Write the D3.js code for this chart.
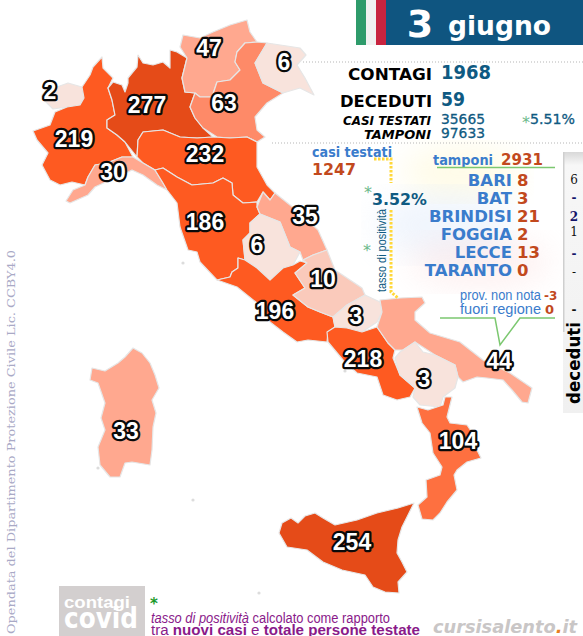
<!DOCTYPE html>
<html>
<head>
<meta charset="utf-8">
<script src="https://cdn.jsdelivr.net/npm/d3@7"></script>
<style>
  html, body { margin: 0; padding: 0; background: #fff; }
  svg { display: block; }
  text { font-family: "DejaVu Sans", sans-serif; }
  .lib { font-family: "Liberation Sans", sans-serif; }
  .serif { font-family: "DejaVu Serif", serif; }
</style>
</head>
<body>
<svg id="chart" width="583" height="636"></svg>
<script type="text/javascript">
// new cases per region
var regionNames = ["Valle d'Aosta", "Piemonte", "Lombardia", "Trentino", "Veneto", "Friuli", "Emilia-Romagna",
  "Liguria", "Toscana", "Marche", "Umbria", "Lazio", "Abruzzo", "Molise", "Campania", "Puglia", "Basilicata",
  "Calabria", "Sicilia", "Sardegna"];
var regionCases = [2, 219, 277, 47, 63, 6, 232, 30, 186, 35, 6, 196, 10, 3, 218, 44, 3, 104, 254, 33];

// outlines, km east / km south of its top left corner
var regionOutlines = [
  [[84,190],[94,180],[114,174],[136,166],[164,174],[168,196],[160,210],[134,214],[106,218],[94,206],[84,196]],
  [[164,174],[180,150],[186,134],[204,114],[206,136],[226,156],[216,176],[224,200],[230,230],[214,240],[214,256],[234,270],[250,284],[266,314],[244,314],[214,326],[190,330],[176,354],[170,370],[144,364],[120,370],[100,360],[84,330],[96,306],[74,280],[66,262],[100,250],[110,224],[134,214],[160,210],[168,196]],
  [[216,176],[226,164],[244,170],[250,184],[256,166],[256,156],[274,134],[276,110],[286,126],[306,130],[326,124],[340,136],[340,100],[354,104],[374,116],[364,156],[370,184],[390,186],[380,214],[390,236],[406,256],[426,274],[394,276],[360,274],[326,260],[286,264],[276,280],[274,314],[250,284],[234,270],[214,256],[214,240],[230,230],[224,200]],
  [[364,156],[374,116],[360,94],[366,70],[400,76],[426,64],[460,50],[494,40],[500,64],[514,84],[490,86],[474,104],[470,124],[480,140],[460,160],[434,164],[424,194],[400,194],[390,186],[370,184]],
  [[514,84],[534,86],[510,126],[526,166],[566,186],[534,206],[510,234],[514,260],[530,274],[514,284],[494,274],[460,276],[434,274],[406,256],[390,236],[380,214],[390,186],[400,194],[424,194],[434,164],[460,160],[480,140],[470,124],[474,104],[490,86]],
  [[534,86],[574,92],[600,96],[612,110],[594,130],[610,156],[628,190],[600,176],[566,186],[526,166],[510,126]],
  [[274,314],[276,280],[286,264],[326,260],[360,274],[394,276],[426,274],[460,276],[494,274],[514,284],[514,334],[534,370],[550,386],[540,400],[526,384],[514,404],[486,406],[466,390],[464,366],[446,356],[426,366],[384,370],[354,354],[326,336],[310,340],[286,326]],
  [[244,314],[266,314],[286,326],[310,340],[326,366],[334,380],[314,370],[286,350],[264,340],[244,350],[220,360],[190,374],[176,390],[140,406],[132,402],[146,380],[170,370],[176,354],[190,330],[214,326]],
  [[310,340],[326,336],[354,354],[384,370],[426,366],[446,356],[464,366],[466,390],[486,406],[514,404],[514,414],[520,428],[500,446],[500,466],[486,480],[490,520],[476,516],[476,536],[464,544],[460,554],[434,560],[400,524],[394,504],[376,500],[360,454],[354,406],[334,380],[326,366]],
  [[526,384],[540,400],[550,386],[600,426],[636,460],[654,500],[626,510],[606,520],[600,504],[580,494],[560,444],[520,428],[514,414]],
  [[500,446],[520,428],[560,444],[580,494],[600,504],[586,530],[566,536],[540,560],[514,536],[490,520],[486,480],[500,466]],
  [[434,560],[460,554],[464,544],[476,536],[476,516],[490,520],[514,536],[540,560],[566,536],[586,530],[600,522],[614,526],[590,546],[610,576],[586,590],[616,614],[640,624],[666,634],[670,654],[656,664],[654,684],[616,680],[594,684],[566,664],[540,644],[514,606],[474,574]],
  [[654,500],[670,540],[724,576],[730,590],[694,610],[666,634],[640,624],[616,614],[586,590],[610,576],[590,546],[614,526],[606,520],[626,510]],
  [[730,590],[760,604],[764,624],[754,644],[724,664],[694,656],[670,654],[666,634],[694,610]],
  [[670,654],[694,656],[724,664],[754,654],[776,686],[790,700],[786,716],[800,750],[830,776],[820,794],[794,800],[766,790],[754,754],[714,746],[686,720],[656,684],[654,664]],
  [[760,600],[800,596],[844,594],[850,606],[830,624],[830,640],[860,666],[920,684],[966,720],[1020,746],[1064,776],[1056,806],[1044,804],[1024,780],[1006,760],[974,756],[954,754],[926,764],[916,754],[910,730],[870,710],[830,684],[806,700],[790,700],[776,686],[754,654],[764,624]],
  [[790,716],[800,704],[830,684],[846,704],[870,710],[910,730],[916,754],[910,776],[886,794],[880,814],[840,810],[826,794],[830,776],[800,750]],
  [[834,814],[856,820],[886,810],[890,794],[904,794],[894,834],[900,846],[934,850],[950,874],[954,900],[962,916],[934,924],[914,940],[908,950],[914,980],[894,1004],[880,1026],[866,1040],[844,1038],[836,1010],[854,994],[852,960],[880,950],[884,934],[866,906],[860,866],[844,846]],
  [[828,1006],[816,1030],[804,1054],[796,1080],[794,1106],[804,1124],[814,1144],[796,1164],[798,1186],[770,1184],[746,1174],[730,1150],[684,1140],[646,1124],[614,1100],[574,1094],[558,1066],[564,1046],[582,1036],[596,1046],[610,1032],[630,1026],[646,1036],[670,1050],[714,1040],[754,1026],[796,1016]],
  [[266,696],[284,706],[300,726],[310,750],[318,776],[304,800],[312,826],[306,854],[304,900],[300,930],[264,924],[250,926],[240,954],[220,954],[200,930],[196,894],[210,860],[202,836],[210,806],[196,766],[180,760],[184,736],[210,742],[236,726],[250,714]]
];
// where each case count sits on the map, same grid
var regionLabelAt = [[100,182],[148,278],[294,210],[418,96],[448,206],[568,124],[410,308],[226,344],[410,444],
  [610,432],[514,490],[550,622],[646,558],[712,632],[726,718],[998,722],[848,758],[916,882],[704,1084],[252,862]];
// small islands left uncoloured
var islets = [[196,936],[518,1186],[366,526],[690,742],[610,640],[386,1000]];

// day figures
var dayNumber = "3";
var dayMonth = "giugno";
var headlineLabels = ["CONTAGI", "DECEDUTI"];
var headlineValues = ["1968", "59"];
var testLabels = ["CASI TESTATI", "TAMPONI"];
var testValues = ["35665", "97633"];
var nationalRate = "5.51%";

// Puglia
var pugliaTested = "1247";
var pugliaSwabs = "2931";
var pugliaRate = "3.52%";
var provinceNames = ["BARI", "BAT", "BRINDISI", "FOGGIA", "LECCE", "TARANTO"];
var provinceCases = [8, 3, 21, 2, 13, 0];
var provinceDeaths = ["6", "-", "2", "1", "-", "-"];
var unknownProvince = "-3";
var outsideRegion = "0";
var unknownDeaths = "-";

var blue = "#0f5a82", sky = "#3a7ccc", rust = "#c2491d", green = "#7cc870", purple = "#8a1a8a";

var svg = d3.select("#chart");
var defs = svg.append("defs");
defs.append("filter").attr("id", "soft").append("feGaussianBlur").attr("stdDeviation", 16);
var deathFade = defs.append("linearGradient").attr("id", "panelFade").attr("x2", 0).attr("y2", 1);
deathFade.append("stop").attr("offset", 0).attr("stop-color", "#d8d8d8");
deathFade.append("stop").attr("offset", 0.05).attr("stop-color", "#f7f7f7");
deathFade.append("stop").attr("offset", 1).attr("stop-color", "#f0f0f0");

function put(s, x, y, size, fill, opts){
  opts = opts || {};
  var t = svg.append("text").attr("x", x).attr("y", y).text(s)
    .style("font-size", size + "px").attr("fill", fill)
    .attr("text-anchor", opts.anchor || "start");
  if (opts.bold !== false) t.style("font-weight", "bold");
  if (opts.italic) t.style("font-style", "italic");
  if (opts.cls) t.attr("class", opts.cls);
  if (opts.len) t.attr("textLength", opts.len).attr("lengthAdjust", "spacingAndGlyphs");
  return t;
}

// faint colour cloud behind the province list
[["#fff3b0", 462, 172, 60, 26], ["#cfe0f8", 445, 225, 70, 34], ["#fbd0d0", 480, 262, 70, 26]].forEach(function(c){
  svg.append("ellipse").attr("cx", c[1]).attr("cy", c[2]).attr("rx", c[3]).attr("ry", c[4])
    .attr("fill", c[0]).attr("opacity", 0.3).attr("filter", "url(#soft)");
});

// map
var x = d3.scaleLinear().domain([0, 1166]).range([0, 583]);
var y = d3.scaleLinear().domain([0, 1272]).range([0, 636]);
var color = d3.scaleThreshold()
  .domain([10, 30, 60, 100, 150, 250])
  .range(["#f8e3dc", "#facabb", "#ffa88f", "#fe8a68", "#fe7040", "#fe5a21", "#e54b18"]);
var outline = d3.line().x(function(d){ return x(d[0]); }).y(function(d){ return y(d[1]); })
  .curve(d3.curveLinearClosed);

svg.append("g").selectAll("circle").data(islets).join("circle")
  .attr("cx", function(d){ return x(d[0]); }).attr("cy", function(d){ return y(d[1]); })
  .attr("r", 1.6).attr("fill", "#dcdcdc");

svg.append("g").selectAll("path").data(regionNames).join("path")
  .attr("d", function(d, i){ return outline(regionOutlines[i]); })
  .attr("fill", function(d, i){ return color(regionCases[i]); })
  .attr("stroke", "#e6e6e6").attr("stroke-width", 1.2).attr("stroke-linejoin", "round");

svg.append("g").selectAll("text").data(regionCases).join("text")
  .attr("class", "lib")
  .attr("x", function(d, i){ return x(regionLabelAt[i][0]); })
  .attr("y", function(d, i){ return y(regionLabelAt[i][1]) + 8; })
  .attr("text-anchor", "middle")
  .style("font-size", "23px").style("font-weight", "bold")
  .attr("fill", "#fff").attr("stroke", "#0a0a0a").attr("stroke-width", 4.5)
  .attr("stroke-linejoin", "round").style("paint-order", "stroke")
  .text(function(d){ return d; });

// header
[["#2e9b6b", 356], ["#f1f1f1", 366], ["#c8243f", 376]].forEach(function(f){
  svg.append("rect").attr("x", f[1]).attr("y", 0).attr("width", 10).attr("height", 45).attr("fill", f[0]);
});
svg.append("rect").attr("x", 386).attr("y", 0).attr("width", 197).attr("height", 45).attr("fill", "#0f5580");
put(dayNumber, 420, 37, 38, "#fff", { anchor: "middle" });
put(dayMonth, 448, 35, 27, "#fff", { len: 103 });

// dotted separators
[[303, 62], [272, 143]].forEach(function(l){
  svg.append("line").attr("x1", l[0]).attr("x2", 583).attr("y1", l[1]).attr("y2", l[1])
    .attr("stroke", "#b5b5b5").attr("stroke-dasharray", "1 2");
});

// national figures
var headlineY = d3.scalePoint().domain(headlineLabels).range([80, 107]);
headlineLabels.forEach(function(d, i){
  put(d, 432, headlineY(d), 16.5, "#000", { anchor: "end", len: i ? 92 : 84 });
  put(headlineValues[i], 441, headlineY(d) - 1, 19, blue, { len: i ? 24 : 50 });
});
var testY = d3.scalePoint().domain(testLabels).range([125, 139]);
testLabels.forEach(function(d, i){
  put(d, 431, testY(d), 12, "#000", { anchor: "end", italic: true, len: i ? 67 : 88 });
  put(testValues[i], 441, testY(d) - 1, 13.5, blue, { len: 44 }).style("font-weight", 500)
    .attr("stroke", blue).attr("stroke-width", 0.3);
});
put("*", 522, 128, 16, "#6ab98a", { bold: false });
put(nationalRate, 530, 124, 13.5, blue, { len: 45 }).style("font-weight", 500)
  .attr("stroke", blue).attr("stroke-width", 0.3);

// Puglia tests
put("casi testati", 312, 157, 14, sky, { len: 80 });
put(pugliaTested, 312, 175, 16.5, rust, { len: 44 });
var dots = d3.line();
[[[374, 159], [391, 159], [391, 183]], [[391, 210], [391, 292], [398, 298]]].forEach(function(p){
  svg.append("path").attr("d", dots(p)).attr("fill", "none").attr("stroke", "#ffd83a")
    .attr("stroke-width", 3).attr("stroke-dasharray", "2.5 1.5");
});
put("*", 364, 198, 16, "#6ab98a", { bold: false });
put("*", 363, 256, 16, "#6ab98a", { bold: false });
put(pugliaRate, 372, 205, 15.5, blue, { len: 55 });
put("tasso di positività", 0, 0, 12.5, blue, { bold: false, cls: "lib", len: 83 })
  .attr("transform", "translate(386,292) rotate(-90)");

put("tamponi", 433, 165, 13.5, sky, { len: 60 });
put(pugliaSwabs, 501, 165, 15.5, rust, { len: 42 });
svg.append("line").attr("x1", 437).attr("x2", 555).attr("y1", 167.5).attr("y2", 167.5)
  .attr("stroke", green).attr("stroke-width", 1.5);

var provinceY = d3.scalePoint().domain(provinceNames).range([186, 276]);
provinceNames.forEach(function(d, i){
  put(d, 512, provinceY(d), 16.5, sky, { anchor: "end" });
  put(provinceCases[i], 517, provinceY(d), 16.5, rust);
});

put("prov. non nota", 460, 300, 14, sky, { bold: false, cls: "lib", len: 81 });
put(unknownProvince, 544, 300, 12, rust);
put("fuori regione", 460, 314, 14, sky, { bold: false, cls: "lib", len: 81 });
put(outsideRegion, 545, 314, 13, rust);
svg.append("path").attr("d", dots([[440, 318], [495, 318], [500, 345], [520, 318], [555, 318]]))
  .attr("fill", "none").attr("stroke", green).attr("stroke-width", 1.5);

// deaths strip
svg.append("rect").attr("x", 563).attr("y", 152).attr("width", 20).attr("height", 261).attr("fill", "url(#panelFade)");
svg.append("rect").attr("x", 563).attr("y", 152).attr("width", 1.5).attr("height", 180).attr("fill", "#cfcfcf");
var deathY = d3.scalePoint().domain(provinceNames).range([184, 276]);
provinceDeaths.forEach(function(d, i){
  var dark = i === 1 || i === 2 || i === 4;
  put(d, 574, deathY(provinceNames[i]) - (i === 3 ? 3 : 0), 12, dark ? "#14146a" : "#111", { anchor: "middle", cls: "serif", bold: dark });
});
put(unknownDeaths, 574, 314, 12, "#111", { anchor: "middle", cls: "serif" });
put("deceduti", 0, 0, 18, "#000", { len: 82 }).attr("transform", "translate(580,404) rotate(-90)");

// source, footnote and logos
put("Opendata del Dipartimento Protezione Civile Lic. CCBY4.0", 0, 0, 11.5, "#a9a9c6", { bold: false, cls: "serif", len: 384 })
  .attr("transform", "translate(15,634) rotate(-90)");
svg.append("rect").attr("x", 59).attr("y", 586).attr("width", 86).attr("height", 50).attr("fill", "#d3cfcf");
put("contagi", 64, 608, 17, "#fff", { cls: "lib", len: 66 });
put("covid", 64, 628, 28, "#fff", { len: 74 });
put("*", 150, 609, 15, "#1a9a2a");
var note = put("", 151, 623, 14, purple, { bold: false, cls: "lib" });
note.append("tspan").style("font-style", "italic").text("tasso di positività");
note.append("tspan").text(" calcolato come rapporto");
note.attr("textLength", 239).attr("lengthAdjust", "spacingAndGlyphs");
var note2 = put("", 151, 635, 14, purple, { bold: false, cls: "lib" });
note2.append("tspan").text("tra ");
note2.append("tspan").style("font-weight", "bold").text("nuovi casi");
note2.append("tspan").text(" e ");
note2.append("tspan").style("font-weight", "bold").text("totale persone testate");
note2.attr("textLength", 269).attr("lengthAdjust", "spacingAndGlyphs");
var logo = put("", 433, 633, 18, "#c9c6c6", { italic: true });
logo.append("tspan").text("cursisalento");
logo.append("tspan").attr("fill", "#e8801e").text(".");
logo.append("tspan").text("it");
logo.attr("textLength", 144).attr("lengthAdjust", "spacingAndGlyphs");
</script>
</body>
</html>
